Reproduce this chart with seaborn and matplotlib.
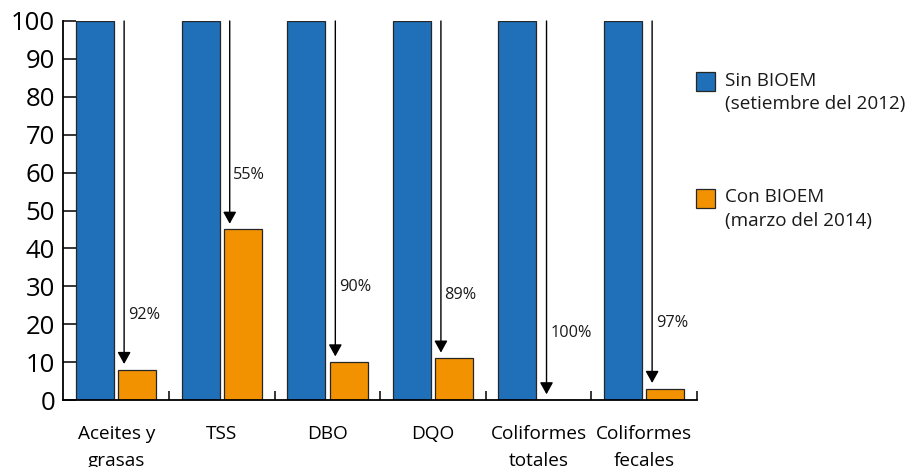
import matplotlib
matplotlib.use("Agg")
import matplotlib.pyplot as plt
from matplotlib.patches import Rectangle
from matplotlib.ticker import FixedLocator
import seaborn as sns
import pandas as pd

# Data
categorias = ["Aceites y\ngrasas", "TSS", "DBO", "DQO", "Coliformes\ntotales", "Coliformes\nfecales"]
sin_bioem = [100, 100, 100, 100, 100, 100]
con_bioem = [8, 45, 10, 11, 0, 3]
series = ["Sin BIOEM\n(setiembre del 2012)", "Con BIOEM\n(marzo del 2014)"]
y_ticks = [0, 10, 20, 30, 40, 50, 60, 70, 80, 90, 100]

# Vertical placement of the reduction labels (data units)
label_y = [22.4, 59.4, 29.8, 27.7, 17.7, 20.3]

AZUL = "#1F70B8"
NARANJA = "#F29200"
BORDE = "#262626"

sns.set_theme(style="white")
plt.rcParams["font.family"] = ["Open Sans", "DejaVu Sans"]

df = pd.DataFrame({
    "categoria": categorias * 2,
    "periodo": [series[0]] * len(categorias) + [series[1]] * len(categorias),
    "valor": sin_bioem + con_bioem,
})

W, H = 906, 467
fig = plt.figure(figsize=(W / 100, H / 100), dpi=100)
ax = fig.add_axes([63.4 / W, 1 - 400 / H, (697 - 63.4) / W, (400 - 21) / H])

sns.barplot(data=df, x="categoria", y="valor", hue="periodo",
            palette=[AZUL, NARANJA], saturation=1, width=0.8, gap=0.1,
            edgecolor=BORDE, linewidth=0.9, legend=False, ax=ax)

ax.set_xlim(-0.5, len(categorias) - 0.5)
ax.set_ylim(0, 100)
ax.set_xlabel("")
ax.set_ylabel("")

# Axes styling
for s in ["top", "right"]:
    ax.spines[s].set_visible(False)
for s in ["left", "bottom"]:
    ax.spines[s].set_color("black")
    ax.spines[s].set_linewidth(1.3)

ax.set_yticks(y_ticks)
ax.set_yticklabels([str(t) for t in y_ticks])
ax.tick_params(axis="y", direction="in", length=9.5, width=1.1, color="black",
               labelsize=18.5, labelcolor="black", pad=6, left=True)
ax.set_xticks(range(len(categorias)))
ax.set_xticklabels(categorias, linespacing=1.65)
ax.tick_params(axis="x", which="major", length=0, labelsize=13.7,
               labelcolor="black", pad=18)
ax.xaxis.set_minor_locator(FixedLocator([i + 0.5 for i in range(len(categorias))]))
ax.tick_params(axis="x", which="minor", direction="in", length=6.5, width=1.1,
               color="black", bottom=True)

# Reduction arrows and labels
for i, v in enumerate(con_bioem):
    xa = i + 0.075
    ax.annotate("", xy=(xa, v + 1.5), xytext=(xa, 100),
                arrowprops=dict(arrowstyle="-|>,head_length=0.72,head_width=0.4",
                                color="black", lw=1.0, mutation_scale=10,
                                shrinkA=0, shrinkB=0))
    ax.text(xa + 0.035, label_y[i], f"{100 - v}%", fontsize=11.7,
            ha="left", va="center", color="#1a1a1a")

# Legend: swatch aligned with the first line of each label
for color, texto, top in zip([AZUL, NARANJA], series, [72, 189]):
    fig.patches.append(Rectangle((695.5 / W, 1 - (top + 19) / H), 19 / W, 19 / H,
                                 transform=fig.transFigure, facecolor=color,
                                 edgecolor=BORDE, linewidth=0.9))
    primera, segunda = texto.split("\n")
    fig.text(725 / W, 1 - (top + 8.5) / H, primera, fontsize=13.6,
             ha="left", va="center", color="#1a1a1a")
    fig.text(725 / W, 1 - (top + 32) / H, segunda, fontsize=13.6,
             ha="left", va="center", color="#1a1a1a")

fig.savefig("out.png", dpi=100, facecolor="white")
